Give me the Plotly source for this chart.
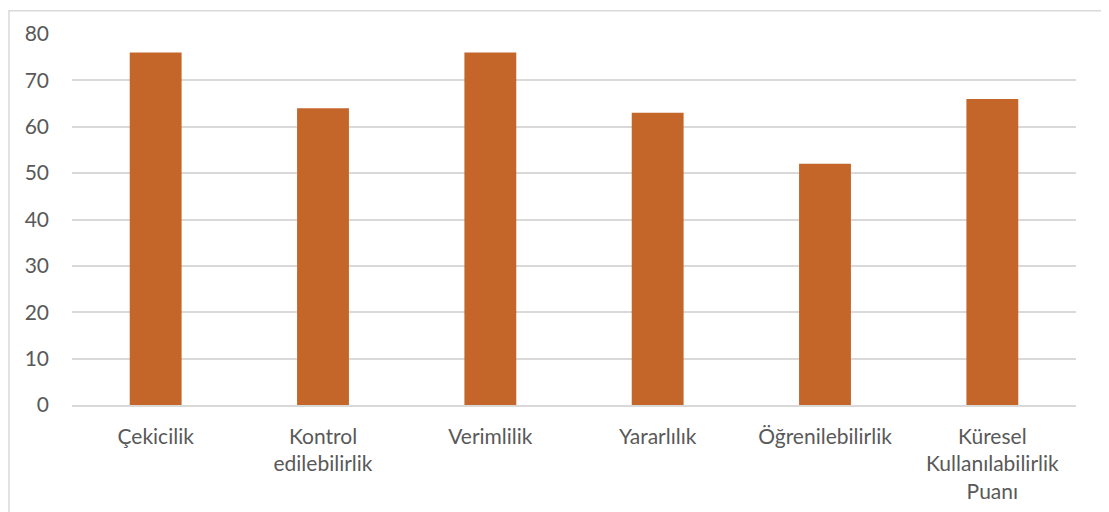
import plotly.graph_objects as go

# Kategoriler ve puanlar
kategoriler = ["Çekicilik", "Kontrol<br>edilebilirlik", "Verimlilik", "Yararlılık",
               "Öğrenilebilirlik", "Küresel<br>Kullanılabilirlik<br>Puanı"]
puanlar = [76, 64, 76, 63, 52, 66]
y_ticks = [0, 10, 20, 30, 40, 50, 60, 70, 80]

# sayfa 8px kaymalı çiziliyor (body margin)
OFF = 8
W, H = 1109, 512
L, R, T, B = 72 - OFF, W - 1076 + OFF, 32 - OFF, H - 405 + OFF
pw, ph = W - L - R, H - T - B

yazi = dict(family="Lato", size=21, color="#595959")

fig = go.Figure(go.Bar(
    x=kategoriler,
    y=puanlar,
    marker=dict(color="#C4662A", line=dict(width=0)),
    width=0.31,
))

fig.update_layout(
    width=W, height=H,
    margin=dict(l=L, r=R, t=T, b=B),
    plot_bgcolor="white",
    paper_bgcolor="white",
    font=yazi,
    showlegend=False,
)

fig.update_yaxes(
    range=[0, 80], tickvals=y_ticks,
    tickfont=yazi,
    showgrid=True, gridcolor="#D9D9D9", gridwidth=1.5,
    zeroline=False, showline=False, ticks="",
    ticklabelstandoff=22,
)
fig.update_xaxes(
    tickfont=yazi,
    showgrid=False, showline=True, linecolor="#D9D9D9", linewidth=1.5,
    ticks="", ticklabelstandoff=12,
)

# Çerçeve
fig.add_shape(
    type="rect", xref="paper", yref="paper",
    x0=-L / pw + 0.001, x1=(1104 - OFF - L) / pw,
    y0=-(B + 20) / ph, y1=1 + (T - 0.5) / ph,
    line=dict(color="#D9D9D9", width=1.5),
    layer="below",
)

fig.write_html("out.html")
